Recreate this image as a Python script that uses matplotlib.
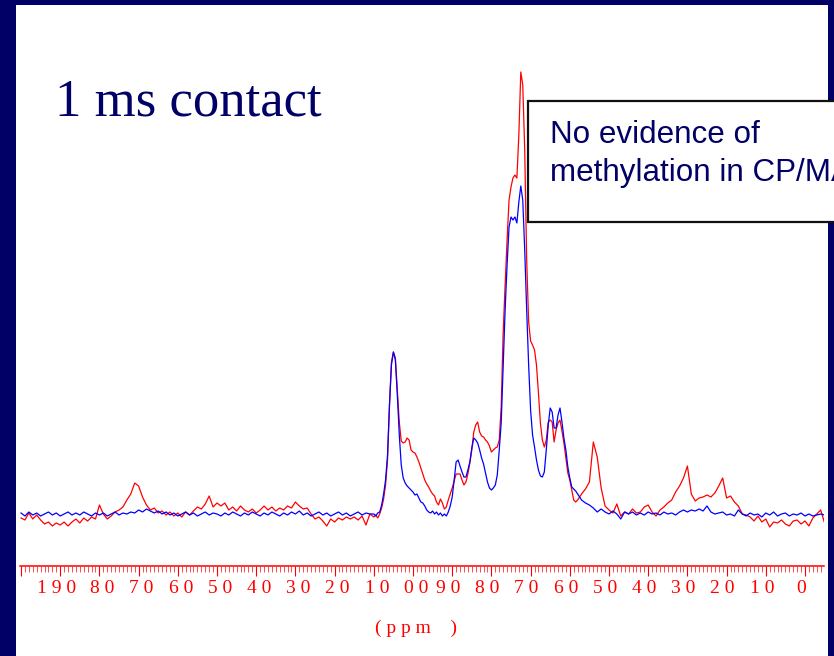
import numpy as np
import matplotlib
matplotlib.use("Agg")
import matplotlib.pyplot as plt
from matplotlib.patches import Rectangle
from matplotlib.transforms import ScaledTranslation

# ---- spectrum data: chemical shift (ppm) and intensity (arb. units) ----
ppm = np.concatenate([
    np.arange(200, 110.5, -1.0),   # 200 .. 111
    np.arange(110, 58.25, -0.5),   # 110 .. 58.5 (finer through the carbohydrate region)
    np.arange(58, -5.5, -1.0),     # 58 .. -5
])

red_200_111 = [
    -2, -4, 3, -3, 1, -4, -8, -6, -10, -7,
    -9, -6, -10, -6, -3, -7, -2, -5, -1, -3,
    11, 2, -3, 0, 4, 6, 9, 16, 22, 33,
    30, 19, 11, 6, 8, 3, 5, 1, 4, 0,
    3, -1, 4, 1, 5, 9, 7, 12, 20, 9,
    13, 10, 13, 6, 9, 5, 10, 6, 4, 7,
    3, 6, 10, 6, 9, 5, 8, 6, 10, 8,
    14, 10, 7, 8, 2, -3, -1, -5, -10, -3,
    -6, -2, -4, -1, -3, -1, -4, 0, -9, 2,
]
red_110_58 = [
    -1, 1, -2, 2, 8, 17, 31, 56, 111, 154,
    164, 158, 126, 94, 75, 73, 74, 78, 76, 66,
    64, 63, 59, 54, 48, 42, 36, 32, 29, 25,
    22, 20, 14, 11, 17, 13, 7, 9, 16, 22,
    28, 35, 42, 42, 42, 36, 31, 34, 42, 53,
    66, 84, 91, 94, 84, 80, 79, 76, 74, 70,
    64, 66, 68, 69, 76, 109, 183, 231, 276, 316,
    329, 338, 341, 338, 381, 444, 431, 366, 256, 194,
    175, 171, 166, 151, 123, 93, 76, 69, 76, 94,
    96, 94, 74, 86, 93, 96, 85, 73, 58, 43,
    36, 26, 16, 14,
]
red_58_m5 = [
    16, 22, 27, 34, 74, 59, 28, 10, 6, 3,
    12, 0, 4, 2, 7, 3, 4, 9, 11, 4,
    0, 6, 9, 13, 16, 24, 30, 38, 50, 22,
    15, 18, 19, 21, 19, 23, 30, 38, 18, 20,
    14, 10, 2, 1, -1, -5, 0, -6, -3, -11,
    -6, -7, -4, -8, -10, -5, -4, -8, -5, -10,
    -2, 2, 6, -7,
]

blue_200_111 = [
    3, 0, 4, 1, 3, 0, 2, 4, 1, 3,
    0, 2, 4, 1, 3, 1, 4, 2, 0, 3,
    1, 3, 0, 2, 4, 1, 3, 2, 4, 3,
    6, 4, 7, 5, 3, 5, 2, 4, 1, 3,
    0, 2, 4, 1, 3, 0, 2, 4, 1, 3,
    2, 0, 3, 1, 4, 2, 0, 3, 1, 4,
    2, 0, 3, 1, 4, 2, 0, 3, 1, 4,
    2, 5, 1, 3, 0, 2, 4, 1, 3, 0,
    2, 4, 1, 3, 0, 2, 4, 1, 3, 2,
]
blue_110_58 = [
    2, 0, 3, 4, 11, 22, 36, 61, 111, 151,
    164, 156, 121, 81, 51, 38, 33, 30, 28, 26,
    24, 21, 22, 18, 14, 13, 10, 6, 4, 3,
    5, 2, 4, 1, 3, 0, 2, 0, 4, 10,
    19, 36, 54, 56, 50, 44, 39, 39, 46, 54,
    68, 78, 76, 73, 66, 58, 52, 43, 34, 28,
    26, 28, 31, 41, 66, 93, 150, 206, 251, 289,
    299, 296, 299, 293, 314, 330, 316, 266, 206, 151,
    106, 81, 69, 56, 46, 40, 39, 44, 66, 91,
    108, 104, 88, 88, 101, 108, 94, 78, 66, 49,
    38, 29, 27, 25,
]
blue_58_m5 = [
    22, 16, 13, 11, 8, 4, 7, 4, 2, 5,
    2, -3, 4, 2, 4, 1, 3, 1, 4, 2,
    3, 1, 4, 2, 3, 1, 4, 6, 4, 6,
    5, 7, 5, 10, 4, 2, 3, 4, 1, 2,
    0, 6, 2, 0, 3, 1, 2, -1, 3, 1,
    4, 0, 2, 3, 0, 2, 1, 3, 0, 2,
    0, 1, 2, 1,
]

red = np.array(red_200_111 + red_110_58 + red_58_m5, dtype=float)
blue = np.array(blue_200_111 + blue_110_58 + blue_58_m5, dtype=float)

# scale ruler
major_ticks = list(range(200, -1, -10))
label_values = [190, 180, 170, 160, 150, 140, 130, 120, 110, 100,
                90, 80, 70, 60, 50, 40, 30, 20, 10, 0]
label_texts = ["1 9 0", "8 0", "7 0", "6 0", "5 0", "4 0", "3 0", "2 0", "1 0", "0 0",
               "9 0", "8 0", "7 0", "6 0", "5 0", "4 0", "3 0", "2 0", "1 0", "0"]

# ---- figure ----
W, H = 834, 656
fig = plt.figure(figsize=(W / 100, H / 100), dpi=100)
fig.patch.set_facecolor("white")


def fx(px):
    return px / W


def fy(py):
    return 1 - py / H


NAVY = "#000066"
for (x0, y0, x1, y1) in [(0, 0, 16, H), (0, 0, W, 5), (828, 0, W, H)]:
    fig.patches.append(Rectangle((fx(x0), fy(y1)), fx(x1) - fx(x0), fy(y0) - fy(y1),
                                 transform=fig.transFigure, facecolor=NAVY,
                                 edgecolor="none", zorder=0))

ax = fig.add_axes([fx(20), fy(566), fx(824) - fx(20), fy(60) - fy(566)])
ax.patch.set_visible(False)
ax.plot(ppm, red, color="#ff0000", lw=0.9, zorder=2)
ax.plot(ppm, blue, color="#0000ff", lw=0.9, zorder=3)
ax.set_xlim(200.26, -4.85)
ax.set_ylim(-50, 456)

for s in ("top", "left", "right"):
    ax.spines[s].set_visible(False)
ax.spines["bottom"].set_color("#ff0000")
ax.spines["bottom"].set_linewidth(1.1)
ax.set_xticks(major_ticks)
ax.set_xticks(np.arange(-4, 201, 1), minor=True)
ax.tick_params(axis="x", which="major", direction="out", length=7, width=0.8,
               color="#ff0000", labelbottom=False)
ax.tick_params(axis="x", which="minor", direction="out", length=4.5, width=0.6,
               color="#ff3030")
ax.tick_params(axis="y", left=False, labelleft=False)

xtrans = ax.get_xaxis_transform()
for v, t in zip(label_values, label_texts):
    shift = 3 if 100 <= v <= 180 else -4
    tr = xtrans + ScaledTranslation(shift / 100, -27 / 100, fig.dpi_scale_trans)
    ax.text(v, 0, t, transform=tr, ha="center", va="baseline",
            family="Liberation Serif", fontsize=14, color="#ff0000", clip_on=False)

fig.text(fx(416), fy(633), "( p p m    )", ha="center", va="baseline",
         family="Liberation Serif", fontsize=14, color="#ff0000")

# title
fig.text(fx(55), fy(115), "1 ms contact", ha="left", va="baseline",
         family="Liberation Serif", fontsize=38, color=NAVY)

# note box (runs off the right edge of the slide)
fig.patches.append(Rectangle((fx(528), fy(221.5)), fx(860) - fx(528), fy(101) - fy(221.5),
                             transform=fig.transFigure, facecolor="white",
                             edgecolor="#111111", lw=1.6, zorder=5))
fig.text(fx(550), fy(142.7), "No evidence of", ha="left", va="baseline",
         family="Liberation Sans", fontsize=22.6, color=NAVY, zorder=6)
fig.text(fx(550), fy(180.7), "methylation in CP/MAS", ha="left", va="baseline",
         family="Liberation Sans", fontsize=22.6, color=NAVY, zorder=6)

fig.savefig("out.png", dpi=100)
